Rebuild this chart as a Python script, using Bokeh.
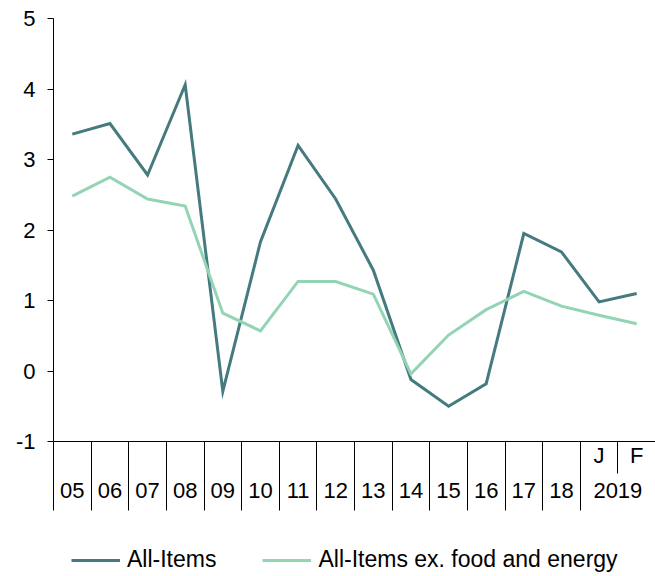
from bokeh.plotting import figure
from bokeh.layouts import column
from bokeh.models import (LinearAxis, FixedTicker, Range1d, Legend, LegendItem)
from bokeh.embed import file_html
from bokeh.resources import INLINE

# ---- data ----
years = ["05", "06", "07", "08", "09", "10", "11", "12", "13", "14", "15", "16", "17", "18"]
months_2019 = ["J", "F"]
group_2019 = "2019"
categories = years + months_2019

all_items = [3.36, 3.51, 2.78, 4.06, -0.29, 1.83, 3.20, 2.44, 1.43, -0.12, -0.50, -0.18, 1.95, 1.69, 0.98, 1.10]
core = [2.48, 2.75, 2.44, 2.34, 0.82, 0.57, 1.27, 1.27, 1.09, -0.04, 0.51, 0.87, 1.13, 0.92, 0.79, 0.67]
series_names = ["All-Items", "All-Items ex. food and energy"]
series_colors = ["#457a7e", "#93d4b5"]

y_ticks = [-1, 0, 1, 2, 3, 4, 5]
y_labels = ["-1", "0", "1", "2", "3", "4", "5"]

FONT = "Liberation Sans"
LINE_W = 3

n = len(categories)
x = [i + 0.5 for i in range(n)]

p = figure(width=655, height=512,
           x_range=Range1d(0, n), y_range=Range1d(y_ticks[0], y_ticks[-1]),
           x_axis_location=None, y_axis_location=None,
           toolbar_location=None, output_backend="svg",
           min_border_left=53, min_border_right=0, min_border_top=18, min_border_bottom=71)
p.outline_line_color = None
p.grid.visible = False
p.background_fill_color = "white"
p.border_fill_color = "white"

# y axis
yax = LinearAxis(ticker=FixedTicker(ticks=y_ticks, minor_ticks=[]),
                 major_label_overrides={t: l for t, l in zip(y_ticks, y_labels)})
yax.major_tick_out = 6
yax.major_tick_in = 0
yax.minor_tick_out = 0
yax.axis_line_color = "black"
yax.major_tick_line_color = "black"
yax.major_label_text_font = FONT
yax.major_label_text_font_size = "22px"
yax.major_label_text_color = "black"
yax.major_label_standoff = 12
p.add_layout(yax, "left")

# x axis row 1: J / F with separators between all categories
n_years = len(years)
row1_ticks = [n_years + i + 0.5 for i in range(len(months_2019))]
row1_minor = [float(i) for i in range(n)]
ax1 = LinearAxis(ticker=FixedTicker(ticks=row1_ticks, minor_ticks=row1_minor),
                 major_label_overrides={t: l for t, l in zip(row1_ticks, months_2019)})
ax1.major_tick_out = 0
ax1.major_tick_in = 0
ax1.major_tick_line_color = None
ax1.minor_tick_out = 32
ax1.minor_tick_in = 0
ax1.minor_tick_line_color = "black"
ax1.axis_line_color = "black"
ax1.major_label_text_font = FONT
ax1.major_label_text_font_size = "22px"
ax1.major_label_text_color = "black"
ax1.major_label_standoff = -31
p.add_layout(ax1, "below")

# x axis row 2: years and 2019 group
row2_ticks = [i + 0.5 for i in range(n_years)] + [float(n_years + len(months_2019) / 2)]
row2_labels = years + [group_2019]
row2_minor = [float(i) for i in range(n_years + 1)]
ax2 = LinearAxis(ticker=FixedTicker(ticks=row2_ticks, minor_ticks=row2_minor),
                 major_label_overrides={t: l for t, l in zip(row2_ticks, row2_labels)})
ax2.major_tick_out = 0
ax2.major_tick_in = 0
ax2.major_tick_line_color = None
ax2.minor_tick_out = 40
ax2.minor_tick_in = 0
ax2.minor_tick_line_color = "black"
ax2.axis_line_color = None
ax2.major_label_text_font = FONT
ax2.major_label_text_font_size = "22px"
ax2.major_label_text_color = "black"
ax2.major_label_standoff = -28
p.add_layout(ax2, "below")

for vals, c in zip([all_items, core], series_colors):
    p.line(x, vals, line_color=c, line_width=LINE_W, line_join="miter")

# legend strip (separate figure below the chart); single-point lines draw
# nothing on their own but give the legend its line glyphs
lg = figure(width=655, height=64, x_range=Range1d(0, n), y_range=Range1d(100, 101),
            x_axis_location=None, y_axis_location=None,
            toolbar_location=None, output_backend="svg",
            min_border_left=0, min_border_right=0, min_border_top=0, min_border_bottom=0)
lg.outline_line_color = None
lg.grid.visible = False
lg_renderers = [lg.line(x[:1], vals[:1], line_color=c, line_width=LINE_W)
                for vals, c in zip([all_items, core], series_colors)]

legend = Legend(items=[LegendItem(label=nm, renderers=[r]) for nm, r in zip(series_names, lg_renderers)],
                orientation="horizontal", location=(18, 3))
legend.glyph_width = 49
legend.glyph_height = 20
legend.label_standoff = 7
legend.spacing = 46
legend.label_text_font = FONT
legend.label_text_font_size = "23px"
legend.label_text_color = "black"
legend.border_line_color = None
legend.background_fill_alpha = 0
legend.padding = 0
legend.margin = 0
lg.add_layout(legend, "center")

layout = column(p, lg, spacing=0)
open("out.html", "w").write(file_html(layout, INLINE))
